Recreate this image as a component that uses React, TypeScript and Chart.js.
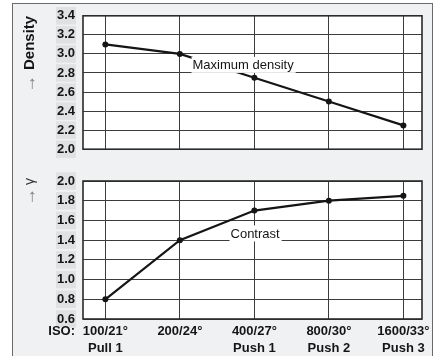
import React, { useEffect, useRef } from "react";
import { Chart, registerables } from "chart.js";

Chart.register(...registerables);

// ---- data ----
const isoLabels = ["100/21°", "200/24°", "400/27°", "800/30°", "1600/33°"];
const pushLabels = ["Pull 1", "", "Push 1", "Push 2", "Push 3"];
const densityValues = [3.1, 3.0, 2.75, 2.5, 2.25];
const contrastValues = [0.8, 1.4, 1.7, 1.8, 1.85];
const densityTicks = [2.0, 2.2, 2.4, 2.6, 2.8, 3.0, 3.2, 3.4];
const contrastTicks = [0.6, 0.8, 1.0, 1.2, 1.4, 1.6, 1.8, 2.0];
const densityNote = { text: "Maximum density", x: 1.17, y: 2.885 };
const contrastNote = { text: "Contrast", x: 1.68, y: 1.468 };

const FONT = '"Liberation Sans", Arial, Helvetica, sans-serif';
const GRID = "#3c3c3c";
const INK = "#151515";

type Part = { text: string; font: string; color: string; gap: number };

function buildChart(
  canvas: HTMLCanvasElement,
  o: {
    values: number[];
    ticks: number[];
    showX: boolean;
    note: { text: string; x: number; y: number };
    title: Part[];
    titleTopOffset: number;
    padTop: number;
    padBottom: number;
    xHeight: number;
  }
) {
  const decor = {
    id: "decor",
    beforeDraw(chart: any) {
      const { ctx, chartArea: a } = chart;
      ctx.save();
      ctx.fillStyle = "#ffffff";
      ctx.fillRect(a.left, a.top, a.right - a.left, a.bottom - a.top);
      ctx.restore();
    },
    afterDatasetsDraw(chart: any) {
      const { ctx } = chart;
      const xs = chart.scales.x;
      const ys = chart.scales.y;
      const px = xs.getPixelForValue(o.note.x);
      const py = ys.getPixelForValue(o.note.y);
      ctx.save();
      ctx.font = `13px ${FONT}`;
      const w = ctx.measureText(o.note.text).width;
      ctx.fillStyle = "#ffffff";
      ctx.fillRect(px - 1, py - 8, w + 3, 16);
      ctx.fillStyle = INK;
      ctx.textAlign = "left";
      ctx.textBaseline = "middle";
      ctx.fillText(o.note.text, px, py + 1);
      ctx.restore();
    },
    afterDraw(chart: any) {
      const { ctx, chartArea: a } = chart;
      ctx.save();
      ctx.strokeStyle = "#2a2a2a";
      ctx.lineWidth = 1.6;
      ctx.strokeRect(a.left, a.top, a.right - a.left, a.bottom - a.top);
      // rotated axis title
      ctx.translate(30, a.top - o.titleTopOffset);
      ctx.rotate(-Math.PI / 2);
      ctx.textAlign = "right";
      ctx.textBaseline = "middle";
      let pos = 0;
      for (const p of o.title) {
        ctx.font = p.font;
        ctx.fillStyle = p.color;
        ctx.fillText(p.text, -pos, 0);
        pos += ctx.measureText(p.text).width + p.gap;
      }
      ctx.restore();
      if (o.showX) {
        ctx.save();
        ctx.font = `bold 13px ${FONT}`;
        ctx.fillStyle = INK;
        ctx.textAlign = "right";
        ctx.textBaseline = "middle";
        ctx.fillText("ISO:", a.left - 8, a.bottom + 12.5);
        ctx.restore();
      }
    },
  };

  return new Chart(canvas, {
    type: "line",
    data: {
      datasets: [
        {
          data: o.values.map((v, i) => ({ x: i, y: v })),
          borderColor: INK,
          backgroundColor: INK,
          borderWidth: 2.2,
          pointRadius: 3,
          pointBackgroundColor: INK,
          pointBorderColor: INK,
          pointBorderWidth: 0,
          tension: 0,
        },
      ],
    },
    options: {
      animation: false,
      responsive: false,
      maintainAspectRatio: false,
      layout: { padding: { top: o.padTop, right: 18, bottom: o.padBottom, left: 0 } },
      plugins: { legend: { display: false }, tooltip: { enabled: false } },
      scales: {
        x: {
          type: "linear",
          min: -0.3,
          max: 4.25,
          afterBuildTicks: (s: any) => {
            s.ticks = isoLabels.map((_, i) => ({ value: i }));
          },
          afterFit: (s: any) => {
            s.height = o.xHeight;
          },
          ticks: {
            display: o.showX,
            autoSkip: false,
            maxRotation: 0,
            padding: 4,
            color: INK,
            font: { family: FONT, size: 13, weight: "bold", lineHeight: 1.3 },
            callback: (v: any) => [isoLabels[v], pushLabels[v]],
          },
          grid: { color: GRID, lineWidth: 1, drawTicks: false },
          border: { display: false },
        },
        y: {
          type: "linear",
          min: o.ticks[0],
          max: o.ticks[o.ticks.length - 1],
          afterBuildTicks: (s: any) => {
            s.ticks = o.ticks.map((v) => ({ value: v }));
          },
          afterFit: (s: any) => {
            s.width = 83;
          },
          ticks: {
            padding: 8,
            color: INK,
            font: { family: FONT, size: 13, weight: "bold" },
            callback: (v: any) => Number(v).toFixed(1),
            showLabelBackdrop: true,
            backdropColor: "#e0e1e3",
            backdropPadding: { x: 1, y: 1 },
          },
          grid: { color: GRID, lineWidth: 1, drawTicks: false },
          border: { display: false },
        },
      },
    } as any,
    plugins: [decor],
  });
}

export default function App() {
  const topRef = useRef<HTMLCanvasElement>(null);
  const botRef = useRef<HTMLCanvasElement>(null);

  useEffect(() => {
    const top = buildChart(topRef.current!, {
      values: densityValues,
      ticks: densityTicks,
      showX: false,
      note: densityNote,
      title: [
        { text: "Density", font: `bold 15px ${FONT}`, color: INK, gap: 5 },
        { text: "→", font: `18px ${FONT}`, color: "#808080", gap: 0 },
      ],
      titleTopOffset: 0,
      padTop: 15,
      padBottom: 11,
      xHeight: 0,
    });
    const bot = buildChart(botRef.current!, {
      values: contrastValues,
      ticks: contrastTicks,
      showX: true,
      note: contrastNote,
      title: [
        { text: "γ", font: `14px ${FONT}`, color: "#333", gap: 3 },
        { text: "→", font: `18px ${FONT}`, color: "#808080", gap: 0 },
      ],
      titleTopOffset: 3,
      padTop: 16,
      padBottom: 0,
      xHeight: 37,
    });
    return () => {
      top.destroy();
      bot.destroy();
    };
  }, []);

  return (
    <div
      style={{
        position: "fixed",
        left: 0,
        top: 0,
        width: 440,
        height: 356,
        overflow: "hidden",
        background: "#ffffff",
      }}
    >
      <div
        style={{
          position: "absolute",
          left: 12,
          top: 3,
          width: 421,
          height: 370,
          boxSizing: "border-box",
          border: "1px solid #6a6a6a",
          background: "#f0f1f3",
        }}
      />
      <canvas
        ref={topRef}
        width={440}
        height={165}
        style={{ position: "absolute", left: 0, top: 0, width: 440, height: 165 }}
      />
      <canvas
        ref={botRef}
        width={440}
        height={191}
        style={{ position: "absolute", left: 0, top: 165, width: 440, height: 191 }}
      />
    </div>
  );
}
